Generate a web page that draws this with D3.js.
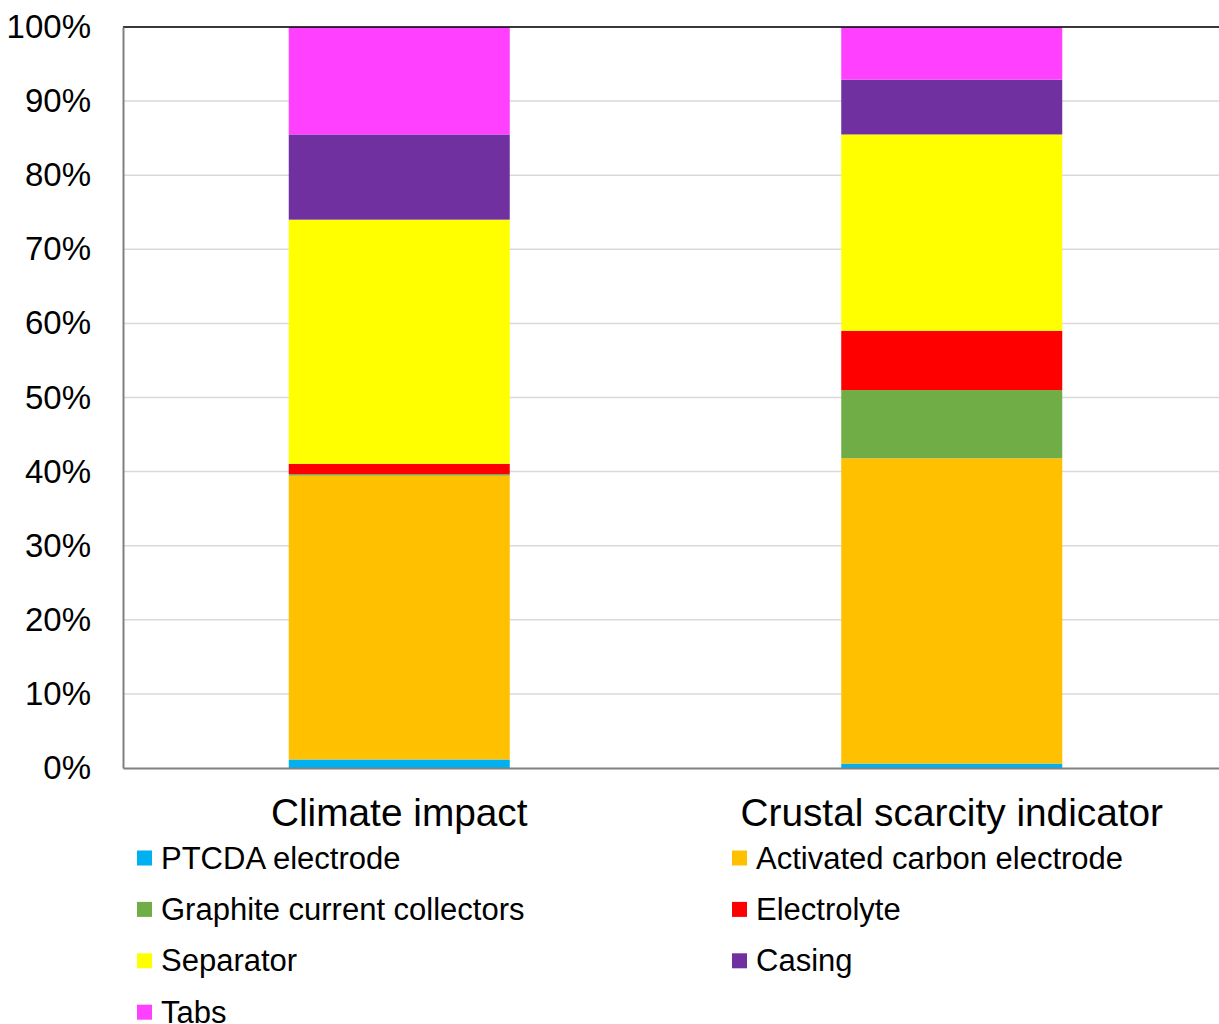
<!DOCTYPE html>
<html>
<head>
<meta charset="utf-8">
<script src="https://cdn.jsdelivr.net/npm/d3@7"></script>
<style>
  body { margin: 0; background: #fff; }
  svg { font-family: "Liberation Sans", Arial, sans-serif; }
</style>
</head>
<body>
<div id="chart"></div>
<script>
// categories and series (percent shares)
var categories = ["Climate impact", "Crustal scarcity indicator"];
var series = ["PTCDA electrode", "Activated carbon electrode", "Graphite current collectors",
              "Electrolyte", "Separator", "Casing", "Tabs"];
var ptcda     = [1.15, 0.6];
var activated = [38.3, 41.2];
var graphite  = [0.2, 9.2];
var electro   = [1.4, 8.0];
var separator = [32.95, 26.5];
var casing    = [11.5, 7.4];
var tabs      = [14.5, 7.1];
var yTicks = [0, 10, 20, 30, 40, 50, 60, 70, 80, 90, 100];

var colors = ["#00B0F0", "#FFC000", "#70AD47", "#FF0000", "#FFFF00", "#7030A0", "#FF40FF"];
var values = [ptcda, activated, graphite, electro, separator, casing, tabs];

// build rows for d3.stack
var rows = categories.map(function(c, i) {
  var r = {cat: c};
  series.forEach(function(s, k) { r[s] = values[k][i]; });
  return r;
});

const margin = {top: 27, right: 0, bottom: 256, left: 123},
    width = 1105,
    height = 1024 - margin.top - margin.bottom;

const svg = d3.select("#chart")
  .append("svg")
    .attr("width", 1219)
    .attr("height", 1024)
  .append("g")
    .attr("transform", `translate(${margin.left},${margin.top})`);

const x = d3.scaleBand()
  .domain(categories)
  .range([0, width])
  .paddingInner(0.6)
  .paddingOuter(0.3);

const y = d3.scaleLinear()
  .domain([0, 100])
  .range([height, 0]);

// gridlines
svg.append("g")
  .selectAll("line")
  .data(yTicks.slice(1))
  .join("line")
    .attr("x1", 0)
    .attr("x2", width)
    .attr("y1", d => y(d))
    .attr("y2", d => y(d))
    .attr("stroke", "#D9D9D9")
    .attr("stroke-width", 1.5);

// stacked bars
const stacked = d3.stack().keys(series)(rows);

svg.append("g")
  .selectAll("g")
  .data(stacked)
  .join("g")
    .attr("fill", (d, i) => colors[i])
  .selectAll("rect")
  .data(d => d)
  .join("rect")
    .attr("x", d => x(d.data.cat))
    .attr("width", x.bandwidth())
    .attr("y", d => y(d[1]))
    .attr("height", d => y(d[0]) - y(d[1]));

// top border
svg.append("line")
  .attr("x1", 0).attr("x2", width)
  .attr("y1", 0).attr("y2", 0)
  .attr("stroke", "#000")
  .attr("stroke-width", 1.5);

// Y axis
const yAxis = svg.append("g")
  .call(d3.axisLeft(y).tickValues(yTicks).tickSize(0).tickPadding(32).tickFormat(d => d + "%"));
yAxis.select(".domain").attr("stroke", "#808080").attr("stroke-width", 2);
yAxis.selectAll("text")
  .attr("font-size", 33)
  .attr("fill", "#000")
  .attr("font-family", "Liberation Sans, Arial, sans-serif");

// X axis
const xAxis = svg.append("g")
  .attr("transform", `translate(0, ${height})`)
  .call(d3.axisBottom(x).tickSize(0).tickPadding(0));
xAxis.select(".domain").attr("stroke", "#808080").attr("stroke-width", 2);
xAxis.selectAll("text")
  .attr("dy", 0)
  .attr("y", 58)
  .attr("font-size", 38.8)
  .attr("fill", "#000")
  .attr("font-family", "Liberation Sans, Arial, sans-serif");

// legend
const legend = d3.select("svg").append("g");
const item = legend.selectAll("g")
  .data(series)
  .join("g")
    .attr("transform", (d, i) => `translate(${i % 2 ? 732 : 137}, ${858 + Math.floor(i / 2) * 51.4})`);
item.append("rect")
  .attr("x", 0).attr("y", -7.5)
  .attr("width", 15).attr("height", 15)
  .attr("fill", (d, i) => colors[i]);
item.append("text")
  .attr("x", 24)
  .attr("y", 10.5)
  .attr("font-size", 31)
  .attr("fill", "#000")
  .text(d => d);
</script>
</body>
</html>
